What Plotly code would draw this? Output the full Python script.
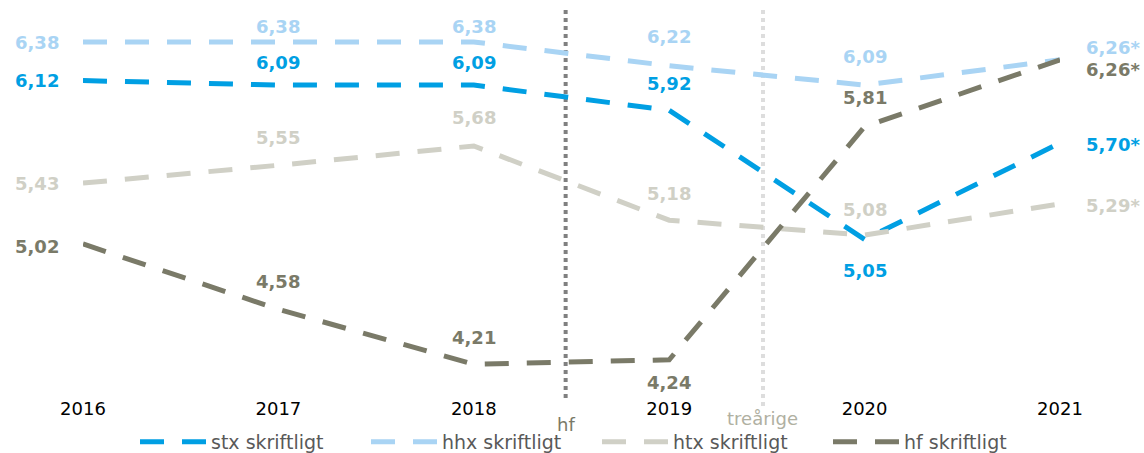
import plotly.graph_objects as go

years = [2016, 2017, 2018, 2019, 2020, 2021]
series_names = ["stx skriftligt", "hhx skriftligt", "htx skriftligt", "hf skriftligt"]
stx = [6.12, 6.09, 6.09, 5.92, 5.05, 5.70]
hhx = [6.38, 6.38, 6.38, 6.22, 6.09, 6.26]
htx = [5.43, 5.55, 5.68, 5.18, 5.08, 5.29]
hf = [5.02, 4.58, 4.21, 4.24, 5.81, 6.26]
last_label_suffix = "*"

divider_x = [2018.47, 2019.48]
divider_text = ["hf", "treårige"]

colors = ["#009FE3", "#A9D4F4", "#D0D0C6", "#7A7A68"]
# label placement per point: 'l' left, 'a' above, 'b' below, 'r' right; with pixel shift
placements = [
    [("l", 0), ("a", 23), ("a", 23), ("a", 27), ("b", -31), ("r", -2)],
    [("l", 0), ("a", 16), ("a", 16), ("a", 29), ("a", 29), ("r", 12)],
    [("l", 0), ("a", 28), ("a", 28), ("a", 27), ("a", 26), ("r", -2)],
    [("l", -3), ("a", 28), ("a", 27), ("b", -23), ("a", 29), ("r", -10)],
]

W, H = 1144, 453
MT, MB = 10, 61
PH = H - MT - MB


def paper_y(py):
    return (H - MB - py) / PH


FONT = "DejaVu Sans"
fig = go.Figure()
all_series = [stx, hhx, htx, hf]

for i, vals in enumerate(all_series):
    fig.add_trace(go.Scatter(
        x=years, y=vals, mode="lines", name=series_names[i],
        line=dict(color=colors[i], width=5, dash="24px,18px"),
        cliponaxis=False, hoverinfo="skip",
    ))

annotations = []
for i, vals in enumerate(all_series):
    for j, (yr, v) in enumerate(zip(years, vals)):
        pos, shift = placements[i][j]
        txt = f"{v:.2f}".replace(".", ",")
        if j == len(years) - 1:
            txt += last_label_suffix
        a = dict(x=yr, y=v, xref="x", yref="y", text=f"<b>{txt}</b>", showarrow=False,
                 font=dict(family=FONT, size=18, color=colors[i]), yshift=shift)
        if pos == "l":
            a.update(xanchor="right", xshift=-22, yanchor="middle")
        elif pos == "r":
            a.update(xanchor="left", xshift=24, yanchor="middle")
        else:
            a.update(xanchor="center", yanchor="middle")
        annotations.append(a)

annotations.append(dict(x=divider_x[0], y=paper_y(424), xref="x", yref="paper", text=divider_text[0],
                        showarrow=False, font=dict(family=FONT, size=18, color="#7A7A68"),
                        xanchor="center", yanchor="middle"))
annotations.append(dict(x=divider_x[1], y=paper_y(418), xref="x", yref="paper", text=divider_text[1],
                        showarrow=False, font=dict(family=FONT, size=18, color="#B0B0A2"),
                        xanchor="center", yanchor="middle"))

shapes = [
    dict(type="line", x0=divider_x[0], x1=divider_x[0], xref="x", yref="paper", y0=1.0, y1=paper_y(400),
         line=dict(color="#808080", width=4, dash="dot"), layer="below"),
    dict(type="line", x0=divider_x[1], x1=divider_x[1], xref="x", yref="paper", y0=1.0, y1=paper_y(408),
         line=dict(color="#DDDDDD", width=4, dash="dot"), layer="below"),
]

fig.update_layout(
    width=W, height=H,
    margin=dict(l=83, r=84, t=MT, b=MB, autoexpand=False),
    paper_bgcolor="white", plot_bgcolor="white",
    font=dict(family=FONT, size=16, color="#000000"),
    showlegend=True,
    legend=dict(orientation="h", xref="container", yref="container", x=0.5 + 25 / W, xanchor="center",
                y=1 - 442 / H, yanchor="middle",
                font=dict(family=FONT, size=19, color="#595959"), itemwidth=66,
                entrywidth=150, traceorder="normal"),
    annotations=annotations, shapes=shapes,
    xaxis=dict(range=[2016, 2021], tickvals=years, ticktext=[str(y) for y in years],
               showgrid=False, zeroline=False, showline=False, ticks="",
               ticklabelstandoff=4,
               tickfont=dict(family=FONT, size=18, color="#000000"), fixedrange=True),
    yaxis=dict(range=[4.023, 6.5955], visible=False, showgrid=False, zeroline=False, fixedrange=True),
)

fig.write_html("out.html", config={"displayModeBar": False},
               post_script="document.body.style.margin='0';document.body.style.overflow='hidden';")
